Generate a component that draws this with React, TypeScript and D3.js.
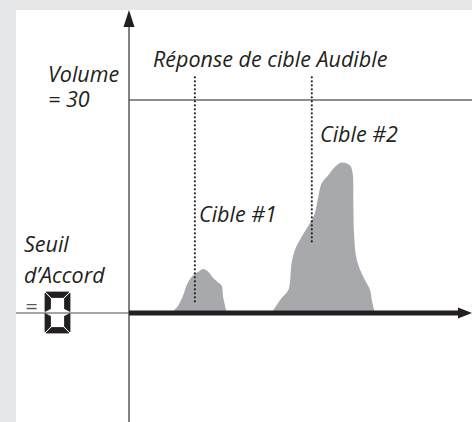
import React from "react";
import * as d3 from "d3";

// ---- data ----
const peak1X = [12.4, 14.4, 15.8, 16.8, 18.3, 20.2, 21.7, 23.1, 24.6, 26.3, 27.0, 27.5, 28.5];
const peak1Y = [0, 1.1, 2.5, 3.9, 5.1, 5.8, 6.2, 5.8, 4.9, 4.2, 3.9, 2.1, 0];
const peak2X = [41.6, 44.0, 46.4, 46.9, 47.4, 48.4, 50.3, 52.8, 54.2, 55.2, 56.2, 58.1, 60.1, 62.0, 64.4, 65.2, 65.4, 65.6, 66.4, 68.3, 70.3, 70.8, 71.7];
const peak2Y = [0, 1.8, 3.2, 4.2, 7.0, 8.9, 10.7, 12.7, 14.1, 16.4, 18.3, 19.4, 20.6, 21.2, 20.8, 19.7, 15.9, 11.2, 7.5, 5.1, 3.2, 1.8, 0];
const volumeLevel = 30;
const targetX = [19.2, 53.3];
const targetBottom = [1.4, 10.0];
const targetTop = 33.2;
const titleLabel = "Réponse de cible Audible";
const targetLabels = ["Cible #1", "Cible #2"];
const volumeLabels = ["Volume", "= 30"];
const thresholdLabels = ["Seuil", "d\u2019Accord"];

const W = 472;
const H = 422;
const INK = "#231f20";
const FONT = "'Open Sans', 'DejaVu Sans', sans-serif";

export default function App() {
  const x = d3.scaleLinear().domain([0, 100]).range([129, 472]);
  const y = d3.scaleLinear().domain([0, 30]).range([313, 100]);

  const area = d3
    .area<[number, number]>()
    .x((d) => x(d[0]))
    .y0(y(0))
    .y1((d) => y(d[1]))
    .curve(d3.curveCatmullRom.alpha(0.5));

  const p1 = peak1X.map((v, i) => [v, peak1Y[i]] as [number, number]);
  const p2 = peak2X.map((v, i) => [v, peak2Y[i]] as [number, number]);

  const axisX = x(0);
  const base = y(0);

  // seven-segment "0"
  const L = 45, R = 70, T = 292, B = 333, M = 312.5, t = 5.5, g = 1;
  const pts = (a: number[][]) => a.map((p) => p.join(",")).join(" ");
  const segs = [
    [[L + g, T], [R - g, T], [R - t - g, T + t], [L + t + g, T + t]],
    [[R, T + g], [R, M - g], [R - t, M - g - t / 2], [R - t, T + t + g]],
    [[R, M + g], [R, B - g], [R - t, B - t - g], [R - t, M + g + t / 2]],
    [[L + g, B], [R - g, B], [R - t - g, B - t], [L + t + g, B - t]],
    [[L, M + g], [L, B - g], [L + t, B - t - g], [L + t, M + g + t / 2]],
    [[L, T + g], [L, M - g], [L + t, M - g - t / 2], [L + t, T + t + g]],
  ];

  const textStyle = { fontFamily: FONT, fontStyle: "italic", fontSize: 21.5, fill: INK } as const;

  return (
    <svg
      width={W}
      height={H}
      style={{ position: "absolute", left: 0, top: 0, display: "block" }}
    >
      <rect x={0} y={0} width={W} height={H} fill="#e6e7e8" />
      <rect x={16} y={10} width={W - 16} height={H - 10} fill="#ffffff" />

      {/* peaks */}
      <path d={area(p1) || ""} fill="#a7a9ac" />
      <path d={area(p2) || ""} fill="#a7a9ac" />

      {/* volume line */}
      <line x1={axisX} x2={W} y1={y(volumeLevel)} y2={y(volumeLevel)} stroke={INK} strokeWidth={1.1} />

      {/* y axis */}
      <line x1={axisX} x2={axisX} y1={24} y2={H} stroke="#4d4d4f" strokeWidth={1.4} />
      <path d={`M${axisX},10 L${axisX + 5.5},27 L${axisX - 5.5},27 Z`} fill={INK} />

      {/* baseline */}
      <line x1={16} x2={axisX} y1={base} y2={base} stroke="#4d4d4f" strokeWidth={1.2} />
      <line x1={axisX} x2={460} y1={base} y2={base} stroke={INK} strokeWidth={5} />
      <path d={`M${W},${base} L${458},${base - 5.5} L${458},${base + 5.5} Z`} fill={INK} />

      {/* target dotted lines */}
      {targetX.map((tx, i) => (
        <line
          key={i}
          x1={x(tx)}
          x2={x(tx)}
          y1={y(targetTop)}
          y2={y(targetBottom[i])}
          stroke={INK}
          strokeWidth={2.2}
          strokeDasharray="0 4"
          strokeLinecap="round"
        />
      ))}

      {/* labels */}
      <text x={153} y={67} style={textStyle}>{titleLabel}</text>
      <text x={48} y={82} style={textStyle}>{volumeLabels[0]}</text>
      <text x={48} y={107} style={textStyle}>{volumeLabels[1]}</text>
      <text x={199} y={222} style={textStyle}>{targetLabels[0]}</text>
      <text x={320} y={142} style={textStyle}>{targetLabels[1]}</text>
      <text x={24} y={252} style={textStyle}>{thresholdLabels[0]}</text>
      <text x={24} y={283} style={textStyle}>{thresholdLabels[1]}</text>
      <text x={25} y={314} style={{ ...textStyle, fill: "#58595b" }}>=</text>

      {/* seven-segment zero */}
      {segs.map((s, i) => (
        <polygon key={i} points={pts(s)} fill={INK} stroke={INK} strokeWidth={0.8} strokeLinejoin="round" />
      ))}
    </svg>
  );
}
